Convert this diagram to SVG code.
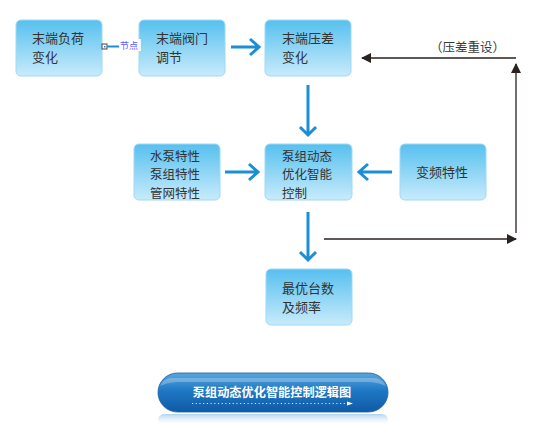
<svg xmlns="http://www.w3.org/2000/svg" width="536" height="424" viewBox="0 0 536 424">
<defs>
<linearGradient id="bg" x1="0" y1="0" x2="0" y2="1">
<stop offset="0" stop-color="#56c0ef"/>
<stop offset="1" stop-color="#c8ebfb"/>
</linearGradient>
<linearGradient id="btn" x1="0" y1="0" x2="0" y2="1">
<stop offset="0" stop-color="#5aa6de"/>
<stop offset="0.45" stop-color="#1f78c4"/>
<stop offset="1" stop-color="#0f5aa6"/>
</linearGradient>
<linearGradient id="refl" x1="0" y1="0" x2="0" y2="1">
<stop offset="0" stop-color="#8fc0e6" stop-opacity="0.7"/>
<stop offset="1" stop-color="#ffffff" stop-opacity="0"/>
</linearGradient>
<marker id="blk" markerWidth="10" markerHeight="10" refX="9" refY="5" orient="auto" markerUnits="userSpaceOnUse">
<path d="M0,0 L10,5 L0,10 Z" fill="#2b211e"/>
</marker>
</defs>
<style>
.box{fill:url(#bg);stroke:#9fd9f5;stroke-width:1}
.t{font-family:"Noto Sans CJK SC","Noto Sans",sans-serif;font-size:13px;fill:#333333}
.t3{font-family:"Noto Sans CJK SC","Noto Sans",sans-serif;font-size:12.5px;fill:#333333}
.ba{fill:none;stroke:#1b8fd6;stroke-width:3}
.kl{fill:none;stroke:#2b211e;stroke-width:1.3}
</style>
<g id="n1"><rect class="box" x="16" y="20" width="86" height="56" rx="5"/><text class="t" x="32" y="43">末端负荷<tspan x="32" dy="19">变化</tspan></text></g>
<g id="n2"><rect class="box" x="139" y="20" width="86" height="56" rx="5"/><text class="t" x="156" y="43">末端阀门<tspan x="156" dy="19">调节</tspan></text></g>
<g id="n3"><rect class="box" x="265" y="20" width="86" height="56" rx="5"/><text class="t" x="282" y="43">末端压差<tspan x="282" dy="19">变化</tspan></text></g>
<g id="n4"><rect class="box" x="134" y="144" width="86" height="56" rx="5"/><text class="t3" x="150" y="161">水泵特性<tspan x="150" dy="18.3">泵组特性</tspan><tspan x="150" dy="18.3">管网特性</tspan></text></g>
<g id="n5"><rect class="box" x="265" y="144" width="87" height="56" rx="5"/><text class="t3" x="282" y="161">泵组动态<tspan x="282" dy="18.3">优化智能</tspan><tspan x="282" dy="18.3">控制</tspan></text></g>
<g id="n6"><rect class="box" x="400" y="144" width="86" height="56" rx="5"/><text class="t" x="416" y="177">变频特性</text></g>
<g id="n7"><rect class="box" x="266" y="269" width="86" height="56" rx="5"/><text class="t" x="282" y="293">最优台数<tspan x="282" dy="19">及频率</tspan></text></g>
<g id="connectors">
<rect x="102" y="44" width="5" height="5" fill="#ffffff" stroke="#444" stroke-width="1"/>
<rect x="104" y="46" width="1.5" height="1.5" fill="#1b8fd6"/>
<line x1="107" y1="46.5" x2="120" y2="46.5" stroke="#1b8fd6" stroke-width="2"/>
<rect x="119" y="39" width="22" height="12" fill="#ffffff" opacity="0.85"/>
<text x="120" y="49" font-family="Noto Sans CJK SC,sans-serif" font-size="9" fill="#5a5aff">节点</text>
<path class="ba" d="M231,47 H259 M250,39 L259,47 L250,55"/>
<path class="ba" d="M308,85 V135 M300,127 L308,135 L316,127"/>
<path class="ba" d="M225,172 H258 M249,164 L258,172 L249,180"/>
<path class="ba" d="M392,172 H359 M368,164 L359,172 L368,180"/>
<path class="ba" d="M308,212 V260 M300,252 L308,260 L316,252"/>
<line class="kl" x1="324" y1="239" x2="516" y2="239" marker-end="url(#blk)"/>
<line class="kl" x1="516" y1="233" x2="516" y2="64" marker-end="url(#blk)"/>
<line class="kl" x1="516" y1="58" x2="362" y2="58" marker-end="url(#blk)"/>
<text x="430" y="52" font-family="Noto Sans CJK SC,sans-serif" font-size="12.5" fill="#3a3a3a" textLength="75" lengthAdjust="spacing">（压差重设）</text>
</g>
<g id="title">
<rect x="158" y="414" width="230" height="12" rx="6" fill="url(#refl)"/>
<rect x="158" y="373" width="230" height="39" rx="19.5" fill="url(#btn)" stroke="#1a5f9e" stroke-width="0.8"/>
<path d="M170,378 H376 Q384,380 386,386 Q380,383 370,382 H176 Q166,383 160,386 Q162,380 170,378 Z" fill="#ffffff" opacity="0.25"/>
<text x="272" y="397" text-anchor="middle" font-family="Noto Sans CJK SC,sans-serif" font-size="12.2" font-weight="bold" fill="#ffffff">泵组动态优化智能控制逻辑图</text>
<line x1="192" y1="403.5" x2="348" y2="403.5" stroke="#cfe6f7" stroke-width="1" stroke-dasharray="1.2,2.5"/>
<path d="M347,401.5 L353,403.5 L347,405.5 Z" fill="#ffffff"/>
</g>
</svg>
